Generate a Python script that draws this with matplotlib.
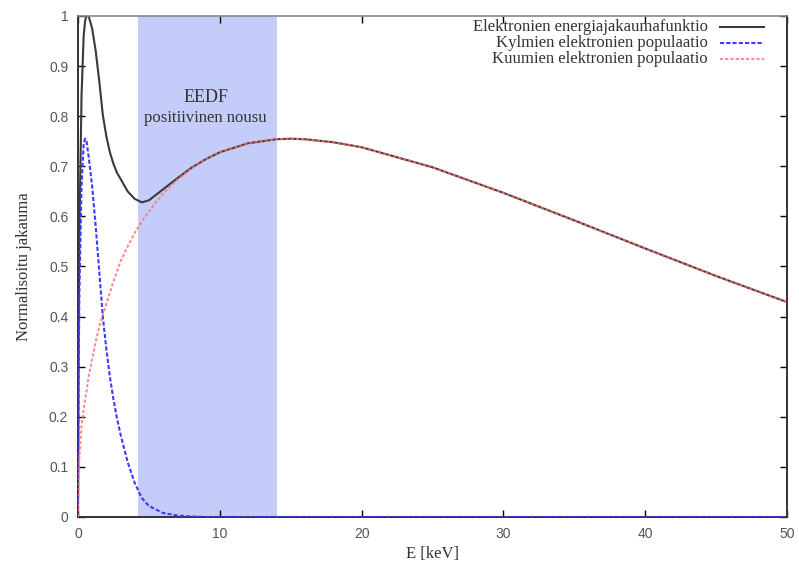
import matplotlib.pyplot as plt
from matplotlib.lines import Line2D

# energia-akseli (keV)
E = [0, 0.05, 0.1, 0.25, 0.4, 0.5, 0.6, 0.75, 1.0, 1.25, 1.5, 1.75, 2, 2.25, 2.5, 2.75,
     3, 3.5, 4, 4.5, 5, 6, 7, 8, 9, 10, 12, 14, 15, 16, 18, 20, 25, 30, 35, 40, 45, 50]

# kylma populaatio
kylma = [0, 0.30, 0.45, 0.66, 0.745, 0.755, 0.75, 0.72, 0.66, 0.58, 0.49, 0.40, 0.335,
         0.28, 0.235, 0.197, 0.165, 0.11, 0.068, 0.038, 0.022, 0.008, 0.003, 0.001, 0, 0,
         0, 0, 0, 0, 0, 0, 0, 0, 0, 0, 0, 0]

# kuuma populaatio
kuuma = [0, 0.09, 0.12, 0.18, 0.215, 0.235, 0.25, 0.28, 0.315, 0.35, 0.38, 0.403, 0.425,
         0.448, 0.47, 0.49, 0.51, 0.54, 0.567, 0.59, 0.61, 0.646, 0.673, 0.696, 0.714,
         0.728, 0.746, 0.754, 0.755, 0.754, 0.748, 0.738, 0.698, 0.647, 0.592, 0.536,
         0.481, 0.429]

# koko EEDF
eedf = [0, 0.39, 0.57, 0.84, 0.96, 0.99, 1.0, 1.0, 0.975, 0.93, 0.87, 0.803, 0.76,
        0.728, 0.705, 0.687, 0.675, 0.65, 0.635, 0.628, 0.632, 0.654, 0.676, 0.697,
        0.714, 0.728, 0.746, 0.754, 0.755, 0.754, 0.748, 0.738, 0.698, 0.647, 0.592,
        0.536, 0.481, 0.429]

nousu = (4.2, 14.0)  # alue jossa EEDF nousee

labels = ['Elektronien energiajakaumafunktio',
          'Kylmien elektronien populaatio',
          'Kuumien elektronien populaatio']

serif = ['Liberation Serif', 'DejaVu Serif']
sans = ['Liberation Sans', 'DejaVu Sans']

fig = plt.figure(figsize=(7.99, 5.67), dpi=100)
ax = fig.add_axes([0.0976, 0.0882, 0.8874, 0.8836])

ax.axvspan(nousu[0], nousu[1], color='#c4cdfa', lw=0, zorder=0)

c_eedf = '#3a3a3a'
c_kylma = '#3a3aff'
c_kuuma = '#ff7070'

ax.plot(E, eedf, color=c_eedf, lw=1.5, zorder=2)
ax.plot(E, kylma, color=c_kylma, lw=1.5, ls=(0, (2, 1)), zorder=3)
ax.plot(E, kuuma, color=c_kuuma, lw=1.5, ls=(0, (1.5, 1)), alpha=0.8, zorder=4)

ax.text(9.0, 0.838, 'EEDF', ha='center', va='center', fontsize=13,
        family=serif, color='#333333')
ax.text(9.0, 0.796, 'positiivinen nousu', ha='center', va='center', fontsize=12,
        family=serif, color='#333333')

ax.set_xlim(0, 50)
ax.set_ylim(0, 1)
ax.set_xticks([0, 10, 20, 30, 40, 50])
ax.set_yticks([0, 0.1, 0.2, 0.3, 0.4, 0.5, 0.6, 0.7, 0.8, 0.9, 1])
ax.set_yticklabels(['0', '0.1', '0.2', '0.3', '0.4', '0.5', '0.6', '0.7', '0.8', '0.9', '1'])
ax.tick_params(direction='in', top=True, right=True, length=5, width=1,
               labelsize=10, labelcolor='#555555', pad=7)
for t in ax.get_xticklabels() + ax.get_yticklabels():
    t.set_family(sans)

for side in ['left', 'bottom', 'right']:
    ax.spines[side].set_color('#333333')
    ax.spines[side].set_linewidth(1.4)
ax.spines['top'].set_color('#888888')
ax.spines['top'].set_linewidth(1.2)

ax.set_xlabel('E [keV]', fontsize=12, family=serif, color='#333333', labelpad=4)
ax.set_ylabel('Normalisoitu jakauma', fontsize=12, family=serif, color='#333333',
              labelpad=12)

# selite oikeaan ylakulmaan, teksti oikealle tasattuna
styles = [dict(color=c_eedf, lw=1.5),
          dict(color=c_kylma, lw=1.5, ls=(0, (2, 1))),
          dict(color=c_kuuma, lw=1.5, ls=(0, (1.5, 1)), alpha=0.8)]
for i, (lab, st) in enumerate(zip(labels, styles)):
    y = 0.978 - i * 0.032
    ax.text(0.888, y, lab, transform=ax.transAxes, ha='right', va='center',
            fontsize=12, family=serif, color='#333333')
    ax.add_line(Line2D([0.906, 0.968], [y, y], transform=ax.transAxes, **st))

fig.savefig('out.png', dpi=100)
